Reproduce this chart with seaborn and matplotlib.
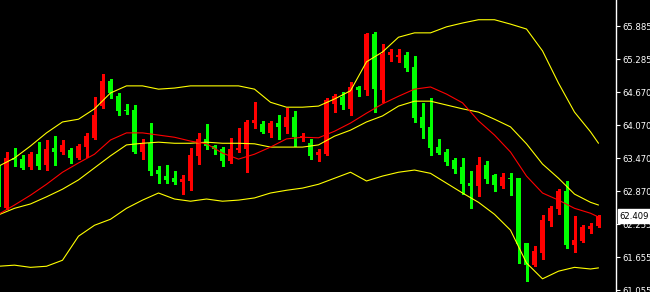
import numpy as np
import pandas as pd
import matplotlib
matplotlib.use("Agg")
import matplotlib.pyplot as plt
import matplotlib.transforms as mtransforms
import seaborn as sns

# ---- candle data (OHLC) ----
opens = [63.34, 62.55, 63.47, 63.45, 63.31, 63.54, 63.34, 63.65, 63.58, 63.62,
         63.47, 63.67, 63.84, 64.42, 64.88, 64.60, 64.35, 64.35, 63.58, 63.74,
         63.25, 63.14, 63.10, 63.03, 63.05, 63.51, 63.82, 63.69, 63.63, 63.41,
         63.62, 63.63, 64.11, 64.09, 63.93, 64.11, 64.04, 64.22, 63.84, 63.74,
         63.52, 63.54, 64.46, 64.59, 64.37, 64.77, 64.71, 65.74, 64.71, 65.35,
         65.32, 65.35, 65.14, 64.22, 64.04, 63.67, 63.58, 63.43, 63.31, 63.01,
         62.96, 63.34, 63.16, 62.96, 63.10, 63.10, 61.91, 61.51, 61.73, 62.32,
         62.54, 62.87, 61.88, 61.95, 62.17, 62.23]
highs = [63.38, 63.58, 63.65, 63.52, 63.58, 63.76, 63.80, 63.87, 63.80, 63.65,
         63.73, 63.93, 64.59, 65.01, 64.92, 64.66, 64.46, 64.44, 63.82, 64.11,
         63.32, 63.34, 63.23, 63.16, 63.65, 63.93, 64.09, 63.71, 63.67, 63.84,
         64.02, 64.16, 64.49, 64.15, 64.15, 64.26, 64.38, 64.33, 63.93, 63.82,
         63.63, 64.57, 64.64, 64.68, 64.86, 64.78, 65.76, 65.78, 65.56, 65.46,
         65.46, 65.41, 65.34, 64.48, 64.57, 63.82, 63.63, 63.47, 63.47, 63.23,
         63.49, 63.41, 63.17, 63.20, 63.20, 63.11, 61.92, 61.86, 62.43, 62.59,
         62.90, 63.05, 62.41, 62.24, 62.28, 62.43]
lows = [62.54, 62.54, 63.32, 63.27, 63.27, 63.27, 63.25, 63.34, 63.54, 63.38,
        63.45, 63.49, 63.82, 64.38, 64.57, 64.26, 64.27, 63.56, 63.45, 63.16,
        63.01, 63.01, 62.99, 62.81, 62.88, 63.36, 63.63, 63.54, 63.32, 63.38,
        63.58, 63.21, 64.02, 63.93, 63.85, 63.82, 63.93, 63.69, 63.78, 63.45,
        63.41, 63.53, 64.31, 64.37, 64.26, 64.60, 64.62, 64.31, 64.49, 65.24,
        65.23, 65.06, 64.13, 63.84, 63.52, 63.54, 63.34, 63.20, 62.81, 62.55,
        62.77, 63.01, 62.87, 62.92, 62.79, 61.55, 61.22, 61.49, 61.62, 62.23,
        62.44, 61.82, 61.75, 61.93, 62.10, 62.21]
closes = [62.57, 63.47, 63.43, 63.29, 63.54, 63.32, 63.63, 63.58, 63.71, 63.47,
          63.69, 63.87, 64.26, 64.88, 64.66, 64.33, 64.33, 63.58, 63.73, 63.23,
          63.18, 63.07, 63.03, 63.09, 63.52, 63.82, 63.69, 63.63, 63.41, 63.63,
          63.65, 64.13, 64.16, 63.95, 64.11, 64.04, 64.22, 63.85, 63.87, 63.51,
          63.58, 64.53, 64.60, 64.44, 64.77, 64.71, 65.74, 64.73, 65.37, 65.41,
          65.35, 65.12, 64.20, 64.02, 63.65, 63.56, 63.40, 63.27, 62.99, 62.96,
          63.34, 63.09, 62.98, 63.12, 63.09, 61.90, 61.51, 61.77, 62.34, 62.55,
          62.87, 61.88, 61.97, 62.21, 62.23, 62.409]

# ---- indicator lines (sampled at candle indices) ----
band_x = list(range(0, 75, 2)) + [75]
upper = [63.32, 63.47, 63.69, 63.93, 64.13, 64.18, 64.37, 64.66, 64.79, 64.79,
         64.73, 64.75, 64.79, 64.79, 64.79, 64.79, 64.73, 64.49, 64.40, 64.40,
         64.42, 64.55, 64.70, 65.23, 65.41, 65.68, 65.76, 65.76, 65.87, 65.94,
         66.00, 66.00, 65.92, 65.83, 65.43, 64.84, 64.31, 63.95, 63.74]
middle = [62.43, 62.55, 62.63, 62.76, 62.90, 63.07, 63.29, 63.51, 63.71, 63.74,
          63.76, 63.74, 63.74, 63.76, 63.74, 63.74, 63.73, 63.67, 63.67, 63.67,
          63.71, 63.87, 63.98, 64.13, 64.24, 64.42, 64.51, 64.51, 64.44, 64.37,
          64.31, 64.18, 64.04, 63.73, 63.36, 63.10, 62.81, 62.66, 62.61]
lower = [61.49, 61.51, 61.47, 61.49, 61.60, 62.04, 62.24, 62.35, 62.55, 62.70,
         62.83, 62.72, 62.68, 62.72, 62.68, 62.70, 62.74, 62.83, 62.88, 62.92,
         62.99, 63.10, 63.21, 63.05, 63.14, 63.21, 63.25, 63.19, 63.01, 62.83,
         62.66, 62.44, 62.15, 61.55, 61.26, 61.40, 61.47, 61.44, 61.46]
ma_red = [62.44, 62.61, 62.79, 62.99, 63.21, 63.38, 63.54, 63.80, 63.93, 63.93,
          63.89, 63.85, 63.78, 63.73, 63.56, 63.45, 63.54, 63.67, 63.82, 63.85,
          63.84, 63.96, 64.11, 64.29, 64.46, 64.60, 64.73, 64.77, 64.64, 64.48,
          64.15, 63.89, 63.58, 63.14, 62.83, 62.70, 62.55, 62.46, 62.39]

tick_labels = ["65.885", "65.285", "64.670", "64.070", "63.470",
               "62.870", "62.255", "61.655", "61.055"]
last_price = 62.409
last_price_label = "62.409"

# ---- style ----
sns.set_theme(style="dark", rc={"axes.facecolor": "black", "figure.facecolor": "black"})
plt.rcParams['font.family'] = ['DejaVu Sans']

fig = plt.figure(figsize=(6.5, 2.92), dpi=100, facecolor='black')
ax = fig.add_axes([0, 0, 616 / 650, 1])
ax.set_facecolor('black')

o = np.array(opens); c = np.array(closes)
h = np.array(highs); l = np.array(lows)
idx = np.arange(len(o))
bull = c >= o
cols = np.where(bull, '#ff0000', '#00ff00')

ax.vlines(idx, l, h, colors=cols, linewidth=0.8, antialiased=False, zorder=3)
bottoms = np.minimum(o, c)
heights = np.maximum(np.abs(c - o), 0.02)
ax.bar(idx, heights, bottom=bottoms, width=0.625, color=cols, linewidth=0,
       antialiased=False, zorder=4)

df = pd.DataFrame({"x": band_x, "upper": upper, "middle": middle,
                   "lower": lower, "ma": ma_red})
for col, colr in [("upper", "#ffff00"), ("middle", "#ffff00"),
                  ("lower", "#ffff00"), ("ma", "#ff0000")]:
    sns.lineplot(data=df, x="x", y=col, ax=ax, color=colr, linewidth=0.8,
                 zorder=5)

ax.set_xlim(0.1875, 77.1875)
ax.set_ylim(61.019, 66.361)
ax.set_xlabel("")
ax.set_ylabel("")
ax.grid(False)
ax.set_xticks([])

ax.yaxis.tick_right()
ax.set_yticks(np.linspace(65.885, 61.055, len(tick_labels)))
ax.set_yticklabels(tick_labels)
ax.tick_params(axis='y', colors='white', length=3, width=0.8, pad=1.5,
               labelsize=6.1, direction='out')
for s in ['top', 'left', 'bottom']:
    ax.spines[s].set_visible(False)
ax.spines['right'].set_visible(True)
ax.spines['right'].set_color('white')
ax.spines['right'].set_linewidth(1.0)

trans = mtransforms.blended_transform_factory(ax.transAxes, ax.transData)
ax.text(1.006, last_price, last_price_label, transform=trans, ha='left',
        va='center', fontsize=6.1, color='black', clip_on=False, zorder=10,
        bbox=dict(boxstyle='square,pad=0.25', fc='white', ec='white'))

fig.savefig("out.png", dpi=100, facecolor='black')
